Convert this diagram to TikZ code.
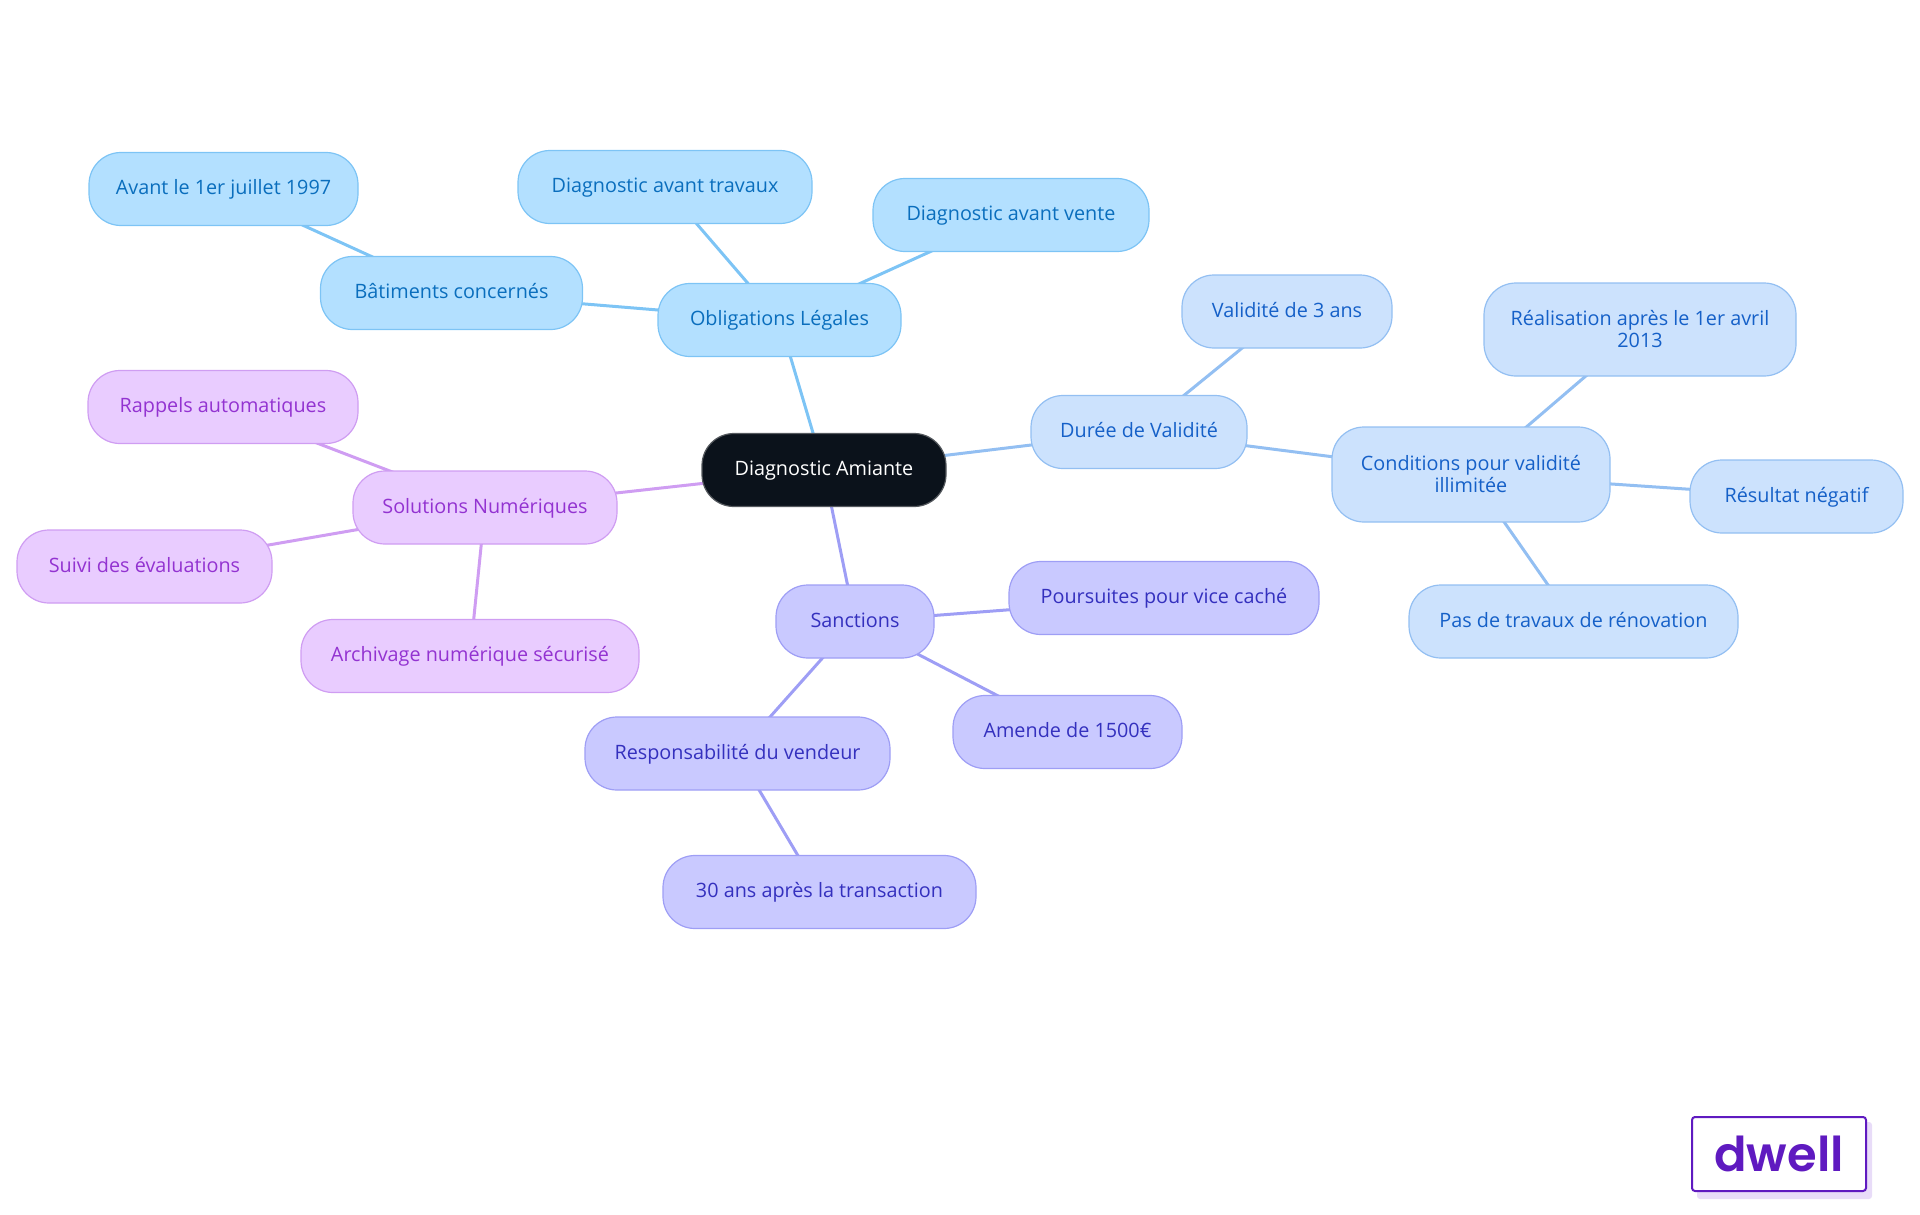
\documentclass[tikz,border=0pt]{standalone}
\usepackage{fontspec}
\setmainfont{Open Sans}
\newfontfamily\logofont[UprightFont=* SemiBold]{Poppins}
\usetikzlibrary{backgrounds}
\definecolor{rootfill}{HTML}{0B121B}
\definecolor{rootline}{HTML}{55595E}
\definecolor{obfill}{HTML}{B3E0FF}
\definecolor{obline}{HTML}{7DC4F5}
\definecolor{obtext}{HTML}{0A6EBD}
\definecolor{dufill}{HTML}{CCE2FD}
\definecolor{duline}{HTML}{93BFF2}
\definecolor{dutext}{HTML}{1560C8}
\definecolor{safill}{HTML}{C9C9FF}
\definecolor{saline}{HTML}{9E9EF5}
\definecolor{satext}{HTML}{3430BE}
\definecolor{sofill}{HTML}{E9CCFF}
\definecolor{soline}{HTML}{CF9DF2}
\definecolor{sotext}{HTML}{9333D1}
\definecolor{logocol}{HTML}{5F1AC0}
\definecolor{logoshadow}{HTML}{E8DCF8}
\tikzset{
  mapnode/.style={rectangle, rounded corners=32pt, line width=1.2pt, align=center,
    minimum height=73pt, inner sep=0pt, text height=15pt, text depth=3.5pt,
    font=\fontsize{19.8}{22}\selectfont},
  twolines/.style={text height=, text depth=},
  rootnode/.style={mapnode, fill=rootfill, draw=rootline, text=white},
  obnode/.style={mapnode, fill=obfill, draw=obline, text=obtext},
  dunode/.style={mapnode, fill=dufill, draw=duline, text=dutext},
  sanode/.style={mapnode, fill=safill, draw=saline, text=satext},
  sonode/.style={mapnode, fill=sofill, draw=soline, text=sotext},
  oblink/.style={draw=obline, line width=3pt},
  dulink/.style={draw=duline, line width=3pt},
  salink/.style={draw=saline, line width=3pt},
  solink/.style={draw=soline, line width=3pt}
}
\begin{document}
\begin{tikzpicture}[x=1pt, y=-1pt]
  \useasboundingbox (0,0) rectangle (1920,1215);
  \node[rootnode, minimum width=244pt] (root) at (824,470) {Diagnostic Amiante};

  \node[obnode, minimum width=243pt] (oblig) at (779.5,320) {Obligations Légales};
  \node[obnode, minimum width=262pt] (batim) at (451.5,293) {Bâtiments concernés};
  \node[obnode, minimum width=269pt] (avant) at (223.5,189) {Avant le 1er juillet 1997};
  \node[obnode, minimum width=294pt] (travaux) at (665,187) {Diagnostic avant travaux};
  \node[obnode, minimum width=276pt] (vente) at (1011,215) {Diagnostic avant vente};

  \node[dunode, minimum width=216pt] (duree) at (1139,432) {Durée de Validité};
  \node[dunode, minimum width=210pt] (trois) at (1287,311.5) {Validité de 3 ans};
  \node[dunode, twolines, minimum width=278pt, minimum height=95pt] (cond) at (1471,474.5) {Conditions pour validité\\illimitée};
  \node[dunode, twolines, minimum width=312pt, minimum height=93pt] (real) at (1640,329.5) {Réalisation après le 1er avril\\2013};
  \node[dunode, minimum width=213pt] (result) at (1796.5,496.5) {Résultat négatif};
  \node[dunode, minimum width=329pt] (renov) at (1573.5,621.5) {Pas de travaux de rénovation};

  \node[sanode, minimum width=158pt] (sanc) at (855,621.5) {Sanctions};
  \node[sanode, minimum width=310pt] (vice) at (1164,598) {Poursuites pour vice caché};
  \node[sanode, minimum width=229pt] (amende) at (1067.5,732) {Amende de 1500€};
  \node[sanode, minimum width=305pt] (resp) at (737.5,753.5) {Responsabilité du vendeur};
  \node[sanode, minimum width=313pt] (trente) at (819.5,892) {30 ans après la transaction};

  \node[sonode, minimum width=264pt] (solu) at (485,507.5) {Solutions Numériques};
  \node[sonode, minimum width=270pt] (rappel) at (223,407) {Rappels automatiques};
  \node[sonode, minimum width=255pt] (suivi) at (144.5,566.5) {Suivi des évaluations};
  \node[sonode, minimum width=338pt] (archiv) at (470,656) {Archivage numérique sécurisé};

  \begin{scope}[on background layer]
    \draw[oblink] (root.center) -- (oblig.center);
    \draw[oblink] (oblig.center) -- (batim.center);
    \draw[oblink] (batim.center) -- (avant.center);
    \draw[oblink] (oblig.center) -- (travaux.center);
    \draw[oblink] (oblig.center) -- (vente.center);
    \draw[dulink] (root.center) -- (duree.center);
    \draw[dulink] (duree.center) -- (trois.center);
    \draw[dulink] (duree.center) -- (cond.center);
    \draw[dulink] (cond.center) -- (real.center);
    \draw[dulink] (cond.center) -- (result.center);
    \draw[dulink] (cond.center) -- (renov.center);
    \draw[salink] (root.center) -- (sanc.center);
    \draw[salink] (sanc.center) -- (vice.center);
    \draw[salink] (sanc.center) -- (amende.center);
    \draw[salink] (sanc.center) -- (resp.center);
    \draw[salink] (resp.center) -- (trente.center);
    \draw[solink] (root.center) -- (solu.center);
    \draw[solink] (solu.center) -- (rappel.center);
    \draw[solink] (solu.center) -- (suivi.center);
    \draw[solink] (solu.center) -- (archiv.center);
  \end{scope}

  \fill[logoshadow, rounded corners=3pt] (1697,1122) rectangle (1872,1199);
  \node[draw=logocol, fill=white, line width=2pt, rounded corners=3pt, minimum width=174pt, minimum height=74pt,
    inner sep=0pt, text=logocol, font=\logofont\fontsize{48}{48}\selectfont] (logo) at (1779,1154) {dwell};
\end{tikzpicture}
\end{document}
